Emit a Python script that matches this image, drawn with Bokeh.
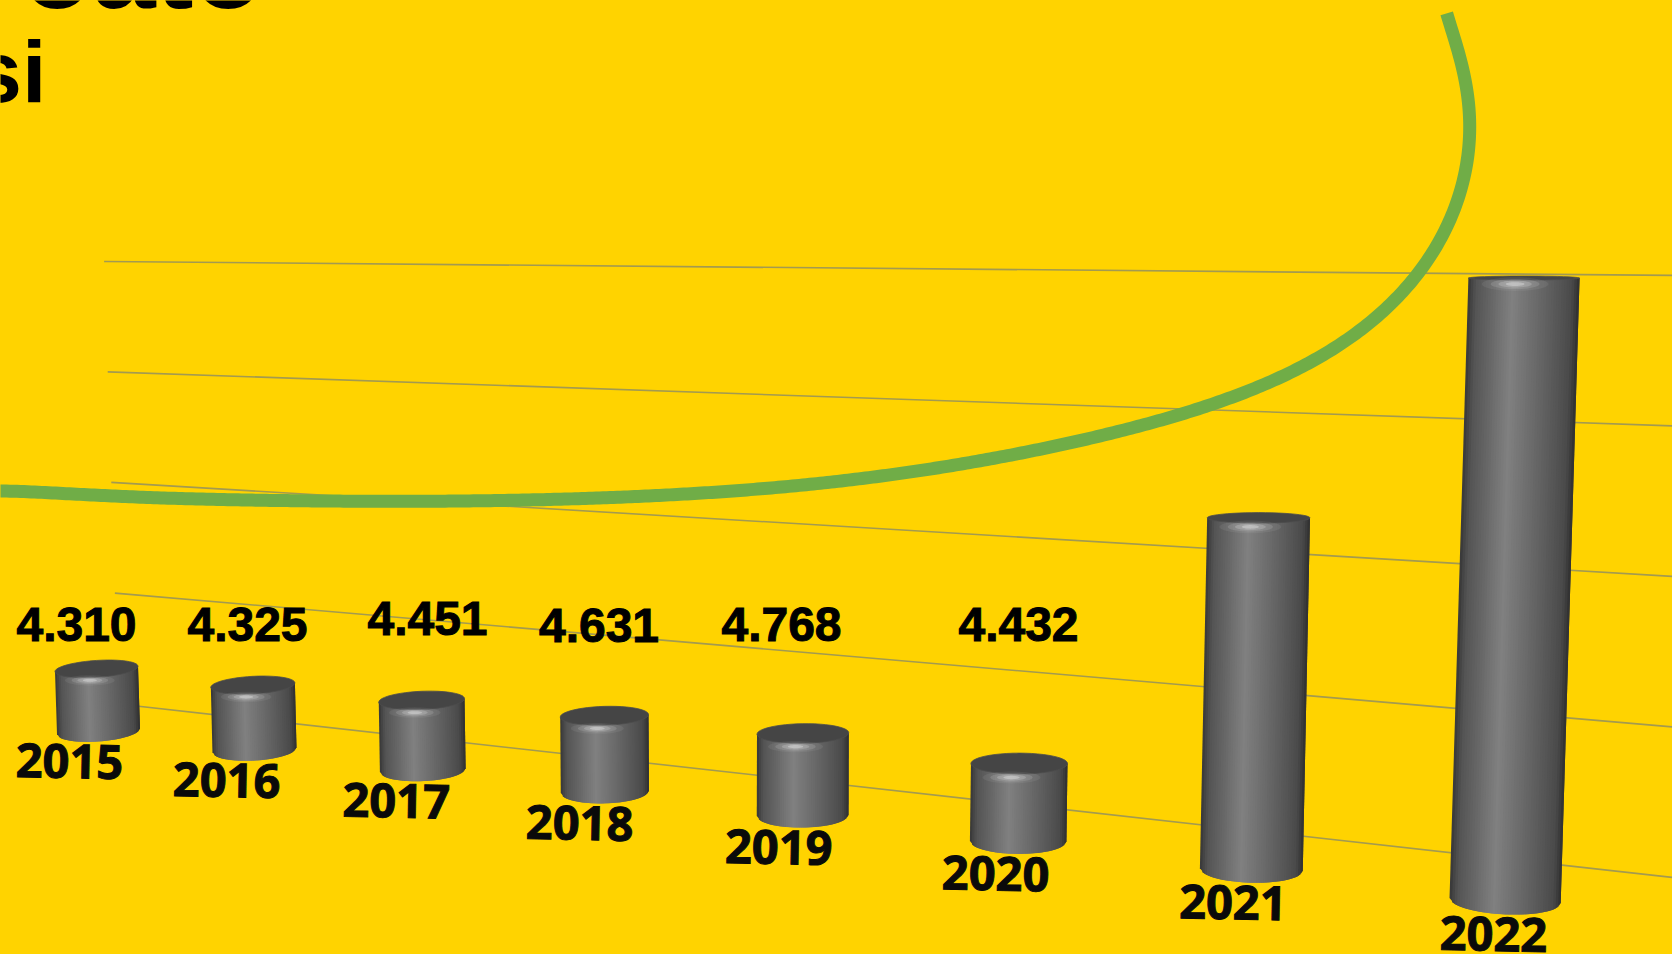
import math
import numpy as np
from bokeh.plotting import figure
from bokeh.models import Range1d
from bokeh.core.properties import value
from bokeh.embed import file_html
from bokeh.resources import INLINE

# ---- data ----
years = ["2015", "2016", "2017", "2018", "2019", "2020", "2021", "2022"]
values = [4310, 4325, 4451, 4631, 4768, 4432, 15800, 26070]
value_labels = ["4.310", "4.325", "4.451", "4.631", "4.768", "4.432"]
grid_values = [0, 6000, 12000, 18000, 24000]
title_line_1 = "oato"
title_line_2 = "si"

# ---- layout (page pixels), kept apart from the data ----
BG = "#FFD300"
GREEN = "#70AD47"
label_cx = [76, 247, 427, 598.5, 781, 1018]
label_cy = [624, 624, 618, 625, 624, 624]
curve_x = [-8, 207, 402, 574, 746, 900, 1053, 1187, 1283, 1359, 1409, 1445, 1458, 1472, 1466, 1455, 1447.7]
curve_y = [490, 499.3, 501, 499, 490, 474, 446.7, 413, 376.7, 331.7, 286.7, 230, 195, 133, 83, 47, 13]


def cat_x(i):
    """perspective position of a category along the floor"""
    return (146.87 * i + 97) / (1 - 0.0367 * i)


def floor_y(x):
    return 741 + 0.122 * (x - 97)


def unit_px(x):
    """pixels per 6000 value units at screen position x"""
    return 110.6 + 0.02568 * (x - 118)


def wall_y(x, v):
    return 703.5 + 0.1116 * (x - 118) - v / 6000 * unit_px(x)


def bar_w(x):
    d = x - 97
    return 83 + 0.005 * d + 0.0000105 * d * d


def smooth_curve(xs, ys, deg=11, n=500):
    """fit one smooth parametric curve through the read points"""
    xs, ys = np.array(xs, float), np.array(ys, float)
    xd, yd = [], []
    for k in range(len(xs) - 1):
        m = max(2, int(math.hypot(xs[k + 1] - xs[k], ys[k + 1] - ys[k]) / 4))
        xd.extend(np.linspace(xs[k], xs[k + 1], m, endpoint=False))
        yd.extend(np.linspace(ys[k], ys[k + 1], m, endpoint=False))
    xd.append(xs[-1])
    yd.append(ys[-1])
    xd, yd = np.array(xd), np.array(yd)
    t = np.concatenate([[0], np.cumsum(np.hypot(np.diff(xd), np.diff(yd)))])
    t = t / t[-1]
    fx = np.polynomial.chebyshev.Chebyshev.fit(t, xd, deg)
    fy = np.polynomial.chebyshev.Chebyshev.fit(t, yd, deg)
    tt = np.linspace(0, 1, n)
    return fx(tt).tolist(), fy(tt).tolist()


STOPS = [(0, (54, 54, 54)), (0.07, (84, 84, 84)), (0.4, (128, 128, 128)), (0.72, (96, 96, 96)),
         (0.93, (74, 74, 74)), (1, (46, 46, 46))]


def shade(u):
    for (a, ca), (b, cb) in zip(STOPS, STOPS[1:]):
        if u <= b:
            f = (u - a) / (b - a)
            return "#%02x%02x%02x" % tuple(round(p + (q - p) * f) for p, q in zip(ca, cb))
    return "#303030"


p = figure(width=1672, height=954, output_backend="svg", toolbar_location=None,
           x_range=Range1d(0, 1672), y_range=Range1d(954, 0),
           x_axis_location=None, y_axis_location=None, min_border=0,
           background_fill_color=BG, border_fill_color=BG, outline_line_color=None)
p.grid.visible = False

# wall gridlines
for k, gv in enumerate(grid_values):
    x0 = 118 - 3.6 * gv / 6000
    p.line([x0, 1672], [wall_y(x0, gv), wall_y(1672, gv)], line_color="#A39A50", line_width=1.6)

# decorative green curve
cx, cy = smooth_curve(curve_x, curve_y)
p.line(cx, cy, line_color=GREEN, line_width=13, line_cap="butt", line_join="round")

# cylinders
N = 44
for i, v in enumerate(values):
    X = cat_x(i)
    w = bar_w(X)
    y_bot = floor_y(X)
    h = v / 6000 * unit_px(X) + 2
    y_top = y_bot - h
    tilt = (X - 746) * 3.85e-5
    xt, xb = X + tilt * h / 2, X - tilt * h / 2
    cap = max(2.0, 0.0215 * (y_top - 267))       # half height of the top ellipse
    sag = 0.0215 * (y_bot - 267)                 # depth of the bottom curve
    skew_top = min(0.0, (X - 1016) * 0.00007)
    skew_bot = (X - 950) * 0.00008

    xs, ys, cols = [], [], []
    for n in range(N):
        u0, u1 = n / N, min(1.0, (n + 2) / N)
        q = []
        for u in (u0, u1):
            e = math.sqrt(max(0, 1 - (2 * u - 1) ** 2))
            ytp = y_top + cap + cap * 0.6 * e + skew_top * (u - 0.5) * w
            ybt = y_bot - sag + sag * e + skew_bot * (u - 0.5) * w
            q.append((xt + (u - 0.5) * w, ytp, xb + (u - 0.5) * w, ybt))
        xs.append([q[0][0], q[1][0], q[1][2], q[0][2]])
        ys.append([q[0][1], q[1][1], q[1][3], q[0][3]])
        cols.append(shade((n + 0.5) / N))
    p.patches(xs, ys, fill_color=cols, line_color=None)

    # top cap
    th = [t * 2 * math.pi / 48 for t in range(48)]
    ex = [xt + w / 2 * math.cos(t) for t in th]
    ey = [y_top + cap + cap * math.sin(t) + skew_top * w / 2 * math.cos(t) for t in th]
    p.patch(ex, ey, fill_color="#454545", line_color="#4c4c4c", line_width=0.8)

    # soft highlight on the front rim
    k = w / 83
    for scale, a in ((1.5, 0.08), (1.1, 0.14), (0.75, 0.22), (0.42, 0.38)):
        hx = [xt - 0.08 * w + 0.2 * w * scale * math.cos(t) for t in th]
        hy = [y_top + 2 * cap + 3 * k + 3.4 * k * scale * math.sin(t) for t in th]
        p.patch(hx, hy, fill_color="#e8e8e8", fill_alpha=a, line_color=None)

    # year label
    p.text([X - 28 + i], [y_bot + 20], text=[years[i]], text_font=value("Open Sans"), text_font_style="bold",
           text_font_size="47px", text_color="#0a0a0a", text_align="center", text_baseline="middle", angle=-0.02,
           text_outline_color="#0a0a0a")

# value labels
p.text(label_cx, label_cy, text=value_labels, text_font=value("Liberation Sans"), text_font_style="bold",
       text_font_size="48px", text_color="#000000", text_align="center", text_baseline="middle",
       text_outline_color="#000000")

# cropped title lines
p.text([22], [-32], text=[title_line_1], text_font=value("Liberation Sans"), text_font_style="bold",
       text_font_size="114px", text_color="#000000", text_align="left", text_baseline="middle")
p.text([46], [70.5], text=[title_line_2], text_font=value("Liberation Sans"), text_font_style="bold",
       text_font_size="88px", text_color="#000000", text_align="right", text_baseline="middle")

html = file_html(p, INLINE)
html = html.replace("<head>", "<head><style>html,body{background:%s;}</style>" % BG, 1)
open("out.html", "w").write(html)
